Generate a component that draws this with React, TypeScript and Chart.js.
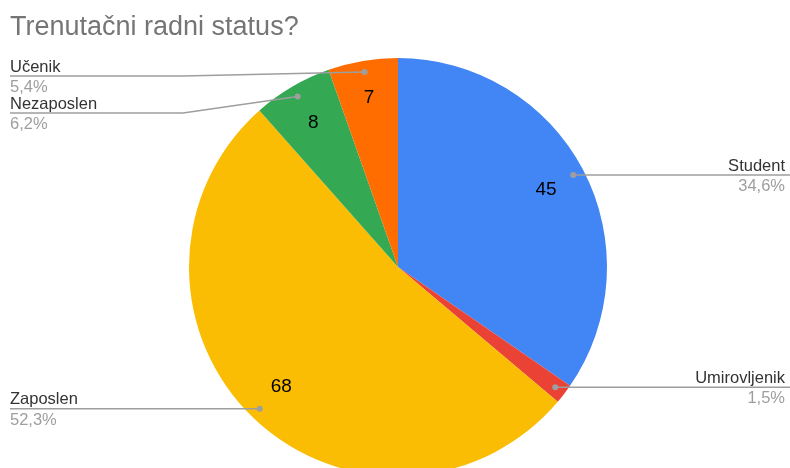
import React, { useEffect, useRef } from "react";
import { Chart, registerables } from "chart.js";

Chart.register(...registerables);

const title = "Trenutačni radni status?";
const categories = ["Student", "Umirovljenik", "Zaposlen", "Nezaposlen", "Učenik"];
const values = [45, 2, 68, 8, 7];
const colors = ["#4285F4", "#EA4335", "#FBBC04", "#34A853", "#FF6D01"];

const FONT = "Arial, 'Liberation Sans', sans-serif";

const labelPlugin = {
  id: "gLabels",
  afterDatasetsDraw(chart: any) {
    const ctx = chart.ctx as CanvasRenderingContext2D;
    const meta = chart.getDatasetMeta(0);
    const total = values.reduce((a, b) => a + b, 0);
    const W = chart.width;

    ctx.save();
    // title
    ctx.font = `27px ${FONT}`;
    ctx.fillStyle = "#757575";
    ctx.textAlign = "left";
    ctx.textBaseline = "alphabetic";
    ctx.fillText(title, 10, 35);

    type Item = { i: number; mid: number; dx: number; dy: number; lineY: number; right: boolean; cx: number; cy: number; r: number };
    const items: Item[] = [];
    meta.data.forEach((arc: any, i: number) => {
      const p = arc.getProps(["startAngle", "endAngle", "outerRadius", "x", "y"], true);
      const mid = (p.startAngle + p.endAngle) / 2;
      const r = p.outerRadius;
      const frac = values[i] / total;
      if (frac >= 0.03) {
        ctx.font = `19px ${FONT}`;
        ctx.fillStyle = "#000000";
        ctx.textAlign = "center";
        ctx.textBaseline = "middle";
        const lr = frac < 0.06 ? r * 0.82 : r * 0.8;
        ctx.fillText(String(values[i]), p.x + Math.cos(mid) * lr, p.y + Math.sin(mid) * lr);
      }
      const dx = p.x + Math.cos(mid) * r * 0.947;
      const dy = p.y + Math.sin(mid) * r * 0.947;
      items.push({ i, mid, dx, dy, lineY: dy, right: Math.cos(mid) >= 0, cx: p.x, cy: p.y, r });
    });

    // collision resolution per side
    const minY = 76;
    const gap = 37;
    [true, false].forEach((side) => {
      const s = items.filter((it) => it.right === side).sort((a, b) => a.dy - b.dy);
      let prev = -Infinity;
      s.forEach((it) => {
        let y = Math.max(it.dy, minY);
        if (y < prev + gap) y = prev + gap;
        it.lineY = y;
        prev = y;
      });
    });

    items.forEach((it) => {
      const pct = ((values[it.i] / total) * 100).toFixed(1).replace(".", ",") + "%";
      const elbowX = it.right ? it.cx + it.r + 6 : it.cx - it.r - 6;
      const endX = it.right ? W : 10;
      ctx.strokeStyle = "#9e9e9e";
      ctx.lineWidth = 1.5;
      ctx.beginPath();
      ctx.moveTo(it.dx, it.dy);
      ctx.lineTo(elbowX, it.lineY);
      ctx.lineTo(endX, it.lineY);
      ctx.stroke();
      ctx.fillStyle = "#9e9e9e";
      ctx.beginPath();
      ctx.arc(it.dx, it.dy, 3, 0, Math.PI * 2);
      ctx.fill();

      ctx.font = `16.5px ${FONT}`;
      ctx.textBaseline = "alphabetic";
      ctx.textAlign = it.right ? "right" : "left";
      const tx = it.right ? W - 5 : 10;
      ctx.fillStyle = "#333333";
      ctx.fillText(categories[it.i], tx, it.lineY - 4.5);
      ctx.fillStyle = "#9e9e9e";
      ctx.fillText(pct, tx, it.lineY + 16);
    });
    ctx.restore();
  },
};

export default function App() {
  const ref = useRef<HTMLCanvasElement>(null);
  useEffect(() => {
    if (!ref.current) return;
    const chart = new Chart(ref.current, {
      type: "pie",
      data: {
        labels: categories,
        datasets: [
          {
            data: values,
            backgroundColor: colors,
            borderWidth: 0,
            clip: false as any,
          },
        ],
      },
      options: {
        responsive: false,
        animation: false,
        radius: 209,
        layout: { padding: { left: 6, top: 66, right: 0, bottom: 0 } },
        plugins: {
          legend: { display: false },
          title: { display: false },
          tooltip: { enabled: false },
        },
      } as any,
      plugins: [labelPlugin],
    });
    return () => chart.destroy();
  }, []);
  return (
    <div style={{ position: "absolute", left: 0, top: 0, width: 790, height: 468, overflow: "hidden", background: "#fff" }}>
      <canvas ref={ref} width={790} height={468} style={{ display: "block" }} />
    </div>
  );
}
